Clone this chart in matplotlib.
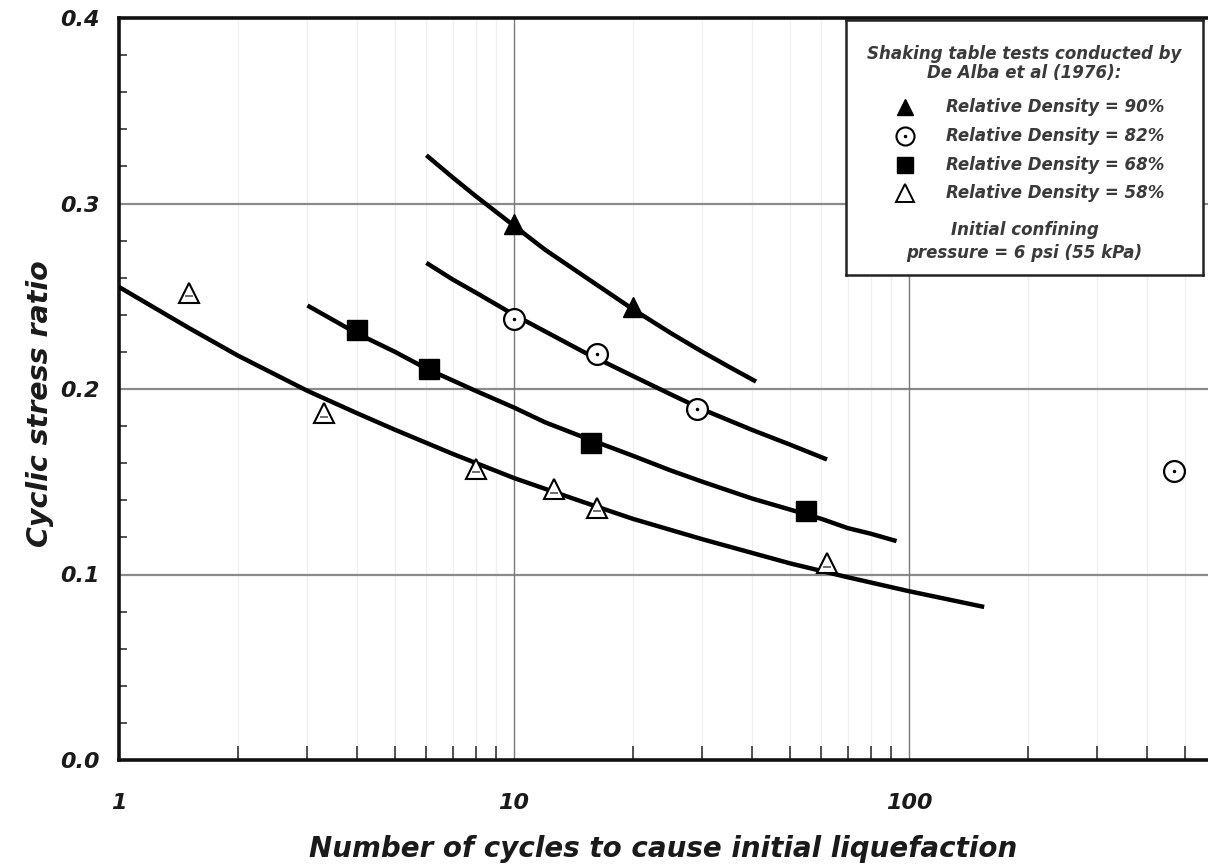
import matplotlib
matplotlib.use("Agg")
import matplotlib.pyplot as plt
from matplotlib.ticker import FixedLocator, NullFormatter, FixedFormatter

plt.rcParams['font.family'] = ['DejaVu Sans']

# Test results (cycles to initial liquefaction, cyclic stress ratio)
dr90_n = [10, 20]
dr90_csr = [0.289, 0.244]
dr82_n = [10, 16.2, 29, 470]
dr82_csr = [0.238, 0.219, 0.189, 0.156]
dr68_n = [4.0, 6.1, 15.7, 55]
dr68_csr = [0.232, 0.211, 0.171, 0.134]
dr58_n = [1.5, 3.3, 8.0, 12.6, 16.2, 62]
dr58_csr = [0.252, 0.187, 0.157, 0.146, 0.136, 0.106]

# Trend curves traced along each density group
fit90_n = [6, 7, 8, 10, 12, 15, 20, 25, 30, 35, 41]
fit90_csr = [0.326, 0.314, 0.304, 0.288, 0.275, 0.261, 0.243, 0.230, 0.220, 0.212, 0.204]
fit82_n = [6, 7, 8, 10, 12, 15, 20, 25, 30, 40, 50, 62]
fit82_csr = [0.268, 0.259, 0.252, 0.240, 0.231, 0.220, 0.207, 0.197, 0.189, 0.178, 0.170, 0.162]
fit68_n = [3, 4, 5, 6, 8, 10, 12, 15, 20, 25, 30, 40, 50, 60, 70, 80, 93]
fit68_csr = [0.245, 0.230, 0.220, 0.211, 0.199, 0.190, 0.182, 0.174, 0.164, 0.156,
             0.150, 0.141, 0.135, 0.130, 0.125, 0.122, 0.118]
fit58_n = [1, 1.5, 2, 3, 4, 5, 7, 10, 15, 20, 30, 50, 70, 100, 155]
fit58_csr = [0.255, 0.233, 0.218, 0.199, 0.187, 0.178, 0.165, 0.152, 0.139, 0.130,
             0.119, 0.106, 0.0985, 0.091, 0.0825]

y_ticks = [0.0, 0.1, 0.2, 0.3, 0.4]
y_tick_labels = ["0.0", "0.1", "0.2", "0.3", "0.4"]
x_ticks = [1, 10, 100]
x_tick_labels = ["1", "10", "100"]

legend_labels = ["Relative Density = 90%", "Relative Density = 82%",
                 "Relative Density = 68%", "Relative Density = 58%"]
legend_header = ["Shaking table tests conducted by", "De Alba et al (1976):"]
legend_footer = ["Initial confining", "pressure = 6 psi (55 kPa)"]

W, H = 1208, 868
fig = plt.figure(figsize=(W / 100, H / 100), dpi=100)
left_px, right_px, top_px, bottom_px = 119, 1208, 18, 760
ax = fig.add_axes([left_px / W, 1 - bottom_px / H,
                   (right_px - left_px) / W, (bottom_px - top_px) / H])
ax.set_xscale('log')
ax.set_xlim(1, 10 ** ((right_px - left_px) / 395.0))
ax.set_ylim(0, 0.4)

# Grid
for yv in [0.1, 0.2, 0.3]:
    ax.axhline(yv, color='#8a8a8a', lw=1.6, zorder=1)
for xv in [10, 100]:
    ax.axvline(xv, color='#7a7a7a', lw=1.0, zorder=1)
minor_x = [m * d for d in [1, 10, 100] for m in range(2, 10)]
minor_x = [v for v in minor_x if v < ax.get_xlim()[1]]
for xv in minor_x:
    ax.axvline(xv, color='#f0f0f0', lw=1.0, zorder=0.5)

# Ticks
ax.xaxis.set_major_locator(FixedLocator(x_ticks))
ax.xaxis.set_major_formatter(FixedFormatter(x_tick_labels))
ax.xaxis.set_minor_locator(FixedLocator(minor_x))
ax.xaxis.set_minor_formatter(NullFormatter())
ax.yaxis.set_major_locator(FixedLocator(y_ticks))
ax.yaxis.set_major_formatter(FixedFormatter(y_tick_labels))
ax.yaxis.set_minor_locator(FixedLocator([i * 0.02 for i in range(1, 20) if i % 5]))
ax.tick_params(axis='both', which='major', direction='in', length=0, width=0)
ax.tick_params(axis='x', which='major', pad=24, labelsize=16)
ax.tick_params(axis='y', which='major', pad=14, labelsize=16)
ax.tick_params(axis='x', which='minor', direction='in', length=10, width=1.2, color='#333333')
ax.tick_params(axis='y', which='minor', direction='in', length=6, width=1.2, color='#333333')
for lbl in ax.get_xticklabels() + ax.get_yticklabels():
    lbl.set_fontstyle('oblique')
    lbl.set_fontweight('bold')
    lbl.set_color('#1a1a1a')

for side in ['left', 'bottom', 'top']:
    ax.spines[side].set_linewidth(2.6)
    ax.spines[side].set_color('#111111')
ax.spines['right'].set_visible(False)

# Trend curves
for n, c in [(fit90_n, fit90_csr), (fit82_n, fit82_csr),
             (fit68_n, fit68_csr), (fit58_n, fit58_csr)]:
    ax.plot(n, c, color='black', lw=3.2, solid_capstyle='butt',
            solid_joinstyle='round', zorder=3)

# Data points
ax.plot(dr90_n, dr90_csr, '^', ms=14, color='black', zorder=4)
ax.plot(dr82_n, dr82_csr, 'o', ms=15, mfc='white', mec='black', mew=1.6, zorder=4)
ax.plot(dr82_n, dr82_csr, '.', ms=3, color='black', zorder=5)
ax.plot(dr68_n, dr68_csr, 's', ms=14, color='black', zorder=4)
ax.plot(dr58_n, dr58_csr, '^', ms=15, mfc='white', mec='black', mew=1.5, zorder=4)
ax.plot(dr58_n, [c - 0.002 for c in dr58_csr], '_', ms=6, color='#555555', mew=1.2, zorder=5)

ax.set_xlabel("Number of cycles to cause initial liquefaction", fontsize=20,
              fontstyle='oblique', fontweight='bold', color='#1a1a1a')
ax.xaxis.set_label_coords(0.5, -0.101)
ax.set_ylabel("Cyclic stress ratio", fontsize=20.5, fontstyle='oblique',
              fontweight='bold', color='#1a1a1a')
ax.yaxis.set_label_coords(-0.06, 0.48)

# Legend panel
lx0, lx1, ly0, ly1 = 846, 1203, 20, 275
lg = fig.add_axes([lx0 / W, 1 - ly1 / H, (lx1 - lx0) / W, (ly1 - ly0) / H])
lg.set_xlim(0, 1)
lg.set_ylim(0, 1)
lg.set_xticks([])
lg.set_yticks([])
for s in lg.spines.values():
    s.set_linewidth(1.8)
    s.set_color('#222222')
lg.set_facecolor('white')
txt_kw = dict(fontsize=12, fontstyle='oblique', fontweight='bold', color='#3a3a3a')
lg.text(0.5, 0.868, legend_header[0], ha='center', va='center', **txt_kw)
lg.text(0.5, 0.792, legend_header[1], ha='center', va='center', **txt_kw)
entry_y = [0.659, 0.545, 0.431, 0.322]
mx = 0.165
lg.plot([mx], [entry_y[0]], '^', ms=12, color='black')
lg.plot([mx], [entry_y[1]], 'o', ms=13, mfc='white', mec='black', mew=1.5)
lg.plot([mx], [entry_y[1]], '.', ms=3, color='black')
lg.plot([mx], [entry_y[2]], 's', ms=12, color='black')
lg.plot([mx], [entry_y[3]], '^', ms=13, mfc='white', mec='black', mew=1.4)
for yv, lab in zip(entry_y, legend_labels):
    lg.text(0.28, yv, lab, ha='left', va='center', **txt_kw)
lg.text(0.5, 0.178, legend_footer[0], ha='center', va='center', **txt_kw)
lg.text(0.5, 0.085, legend_footer[1], ha='center', va='center', **txt_kw)

fig.savefig("out.png", dpi=100)
